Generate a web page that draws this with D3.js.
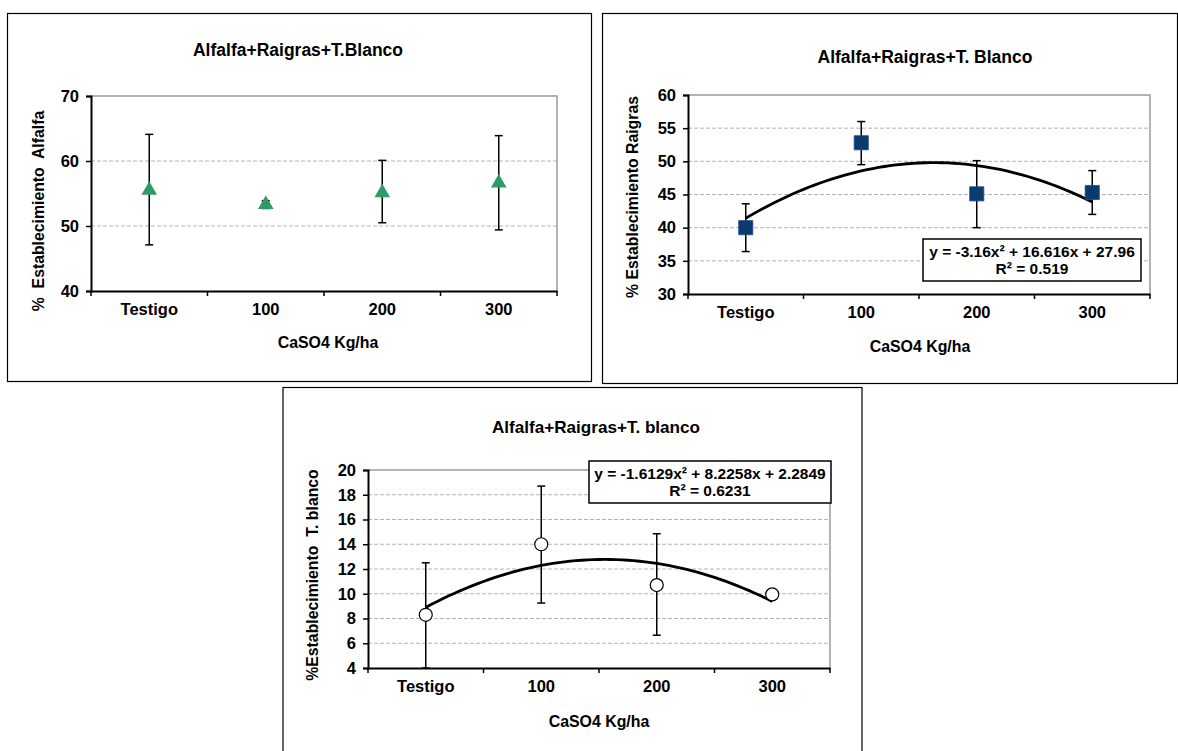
<!DOCTYPE html>
<html><head><meta charset="utf-8">
<script src="https://cdn.jsdelivr.net/npm/d3@7"></script>
<style>
html,body{margin:0;padding:0;background:#fff;}
svg{display:block;font-family:"Liberation Sans",Arial,sans-serif;font-weight:bold;}
</style></head>
<body>
<svg id="chart" width="1178" height="751"></svg>
<script>
// ---- data ----
const categories = ["Testigo", "100", "200", "300"];

const alfalfaMean = [55.5, 53.3, 55.1, 56.6];
const alfalfaLow  = [47.1, 52.7, 50.5, 49.4];
const alfalfaHigh = [64.1, 53.9, 60.1, 63.9];
const alfalfaTicks = [40, 50, 60, 70];

const raigrasMean = [40.0, 52.8, 45.1, 45.3];
const raigrasLow  = [36.4, 49.5, 40.0, 42.0];
const raigrasHigh = [43.6, 56.0, 50.1, 48.6];
const raigrasTicks = [30, 35, 40, 45, 50, 55, 60];
const raigrasFit = [-3.16, 16.616, 27.96];
const raigrasEq = ["y = -3.16x² + 16.616x + 27.96", "R² = 0.519"];

const blancoMean = [8.3, 14.0, 10.7, 9.95];
const blancoLow  = [4.0, 9.25, 6.65, 9.95];
const blancoHigh = [12.5, 18.7, 14.85, 9.95];
const blancoTicks = [4, 6, 8, 10, 12, 14, 16, 18, 20];
const blancoFit = [-1.6129, 8.2258, 2.2849];
const blancoEq = ["y = -1.6129x² + 8.2258x + 2.2849", "R² = 0.6231"];

const titles = ["Alfalfa+Raigras+T.Blanco", "Alfalfa+Raigras+T. Blanco", "Alfalfa+Raigras+T. blanco"];
const yLabels = ["%  Establecimiento  Alfalfa", "% Establecimiento Raigras", "%Establecimiento  T. blanco"];
const xLabel = "CaSO4 Kg/ha";

const svg = d3.select("#chart");

function panel(cfg) {
  const g = svg.append("g");
  // outer frame
  g.append("rect").attr("x", cfg.frame[0]).attr("y", cfg.frame[1])
    .attr("width", cfg.frame[2]).attr("height", cfg.frame[3])
    .attr("fill", "#fff").attr("stroke", "#000").attr("stroke-width", 1.2);

  const [L, R, T, B] = cfg.plot;
  const x = d3.scaleBand().domain(categories).range([L, R]).paddingInner(0).paddingOuter(0);
  const xf = d3.scaleLinear().domain([0.5, 4.5]).range([L, R]);
  const y = d3.scaleLinear().domain(cfg.domain).range([B, T]);

  // gridlines
  g.append("g").selectAll("line").data(cfg.ticks.slice(1, -1)).join("line")
    .attr("x1", L).attr("x2", R).attr("y1", d => y(d)).attr("y2", d => y(d))
    .attr("stroke", "#b4b4b4").attr("stroke-width", 1).attr("stroke-dasharray", "4,2");
  // plot area border top / right
  g.append("path").attr("d", `M${L},${T}H${R}V${B}`).attr("fill", "none")
    .attr("stroke", "#9a9a9a").attr("stroke-width", 1.5);

  // y axis
  const ya = d3.axisLeft(y).tickValues(cfg.ticks).tickSize(5).tickPadding(7).tickFormat(d3.format("d"));
  const yg = g.append("g").attr("transform", `translate(${L},0)`).call(ya);
  yg.select(".domain").attr("stroke", "#000").attr("stroke-width", 2);
  yg.selectAll(".tick line").attr("stroke", "#000").attr("stroke-width", 1.5);
  yg.selectAll("text").attr("font-size", 16.5).attr("font-weight", "bold").attr("font-family", "Liberation Sans, Arial").attr("fill", "#000");

  // x axis
  const xa = d3.axisBottom(x).tickSize(0).tickPadding(12.5);
  const xg = g.append("g").attr("transform", `translate(0,${B})`).call(xa);
  xg.select(".domain").attr("stroke", "#000").attr("stroke-width", 2);
  xg.selectAll("text").attr("font-size", 16.5).attr("font-weight", "bold").attr("font-family", "Liberation Sans, Arial").attr("fill", "#000");
  // boundary ticks
  g.append("g").selectAll("line").data(d3.range(categories.length + 1)).join("line")
    .attr("x1", i => L + i * x.bandwidth()).attr("x2", i => L + i * x.bandwidth())
    .attr("y1", B).attr("y2", B + 5).attr("stroke", "#000").attr("stroke-width", 1.5);

  // trend line
  if (cfg.fit) {
    const [a, b, c] = cfg.fit;
    const pts = d3.range(1, 4.001, 0.05).map(t => [xf(t), y(a * t * t + b * t + c)]);
    g.append("path").attr("d", d3.line()(pts)).attr("fill", "none")
      .attr("stroke", "#000").attr("stroke-width", 2.8);
  }

  // error bars
  const eb = g.append("g").attr("stroke", "#000").attr("stroke-width", 1.5);
  categories.forEach((c, i) => {
    if (cfg.high[i] - cfg.low[i] < 0.01) return;
    const cx = x(c) + x.bandwidth() / 2;
    eb.append("line").attr("x1", cx).attr("x2", cx).attr("y1", y(cfg.low[i])).attr("y2", y(cfg.high[i]));
    eb.append("line").attr("x1", cx - 4).attr("x2", cx + 4).attr("y1", y(cfg.low[i])).attr("y2", y(cfg.low[i]));
    eb.append("line").attr("x1", cx - 4).attr("x2", cx + 4).attr("y1", y(cfg.high[i])).attr("y2", y(cfg.high[i]));
  });

  // markers
  const mg = g.append("g");
  categories.forEach((c, i) => {
    const cx = x(c) + x.bandwidth() / 2, cy = y(cfg.mean[i]);
    if (cfg.marker === "triangle") {
      mg.append("path").attr("d", d3.symbol(d3.symbolTriangle, 105)())
        .attr("transform", `translate(${cx},${cy})`).attr("fill", "#2e9a66");
    } else if (cfg.marker === "square") {
      mg.append("path").attr("d", d3.symbol(d3.symbolSquare, 200)())
        .attr("transform", `translate(${cx},${cy})`).attr("fill", "#0b3a6e").attr("stroke", "#1f4f85").attr("stroke-width", 0.8);
    } else {
      mg.append("circle").attr("cx", cx).attr("cy", cy).attr("r", 6.5)
        .attr("fill", "#fff").attr("stroke", "#000").attr("stroke-width", 1.2);
    }
  });

  // equation box
  if (cfg.eqBox) {
    const [bx, by, bw, bh] = cfg.eqBox;
    g.append("rect").attr("x", bx).attr("y", by).attr("width", bw).attr("height", bh)
      .attr("fill", "#fff").attr("stroke", "#000").attr("stroke-width", 1.5);
    cfg.eq.forEach((t, k) => {
      g.append("text").attr("x", bx + bw / 2).attr("y", by + 17.5 + k * 17)
        .attr("text-anchor", "middle").attr("font-size", 15.5).text(t);
    });
  }

  // titles and labels
  g.append("text").attr("x", cfg.title[0]).attr("y", cfg.title[1]).attr("text-anchor", "middle")
    .attr("dominant-baseline", "central").attr("font-size", cfg.titleSize).text(cfg.titleText);
  g.append("text").attr("x", cfg.xlab[0]).attr("y", cfg.xlab[1]).attr("text-anchor", "middle")
    .attr("dominant-baseline", "central").attr("font-size", 15.9).text(xLabel);
  g.append("text").attr("transform", `translate(${cfg.ylab[0]},${cfg.ylab[1]}) rotate(-90)`)
    .attr("text-anchor", "middle").attr("dominant-baseline", "central").attr("font-size", 15.8)
    .attr("xml:space", "preserve").style("white-space", "pre").text(cfg.ylabText);
}

panel({
  frame: [7.5, 13.5, 584, 368], plot: [91, 557, 96, 291], domain: [40, 70], ticks: alfalfaTicks,
  mean: alfalfaMean, low: alfalfaLow, high: alfalfaHigh, marker: "triangle",
  title: [298, 50], titleSize: 17.5, titleText: titles[0], xlab: [328, 342], ylab: [38, 211], ylabText: yLabels[0]
});
panel({
  frame: [602.5, 13.5, 575, 370], plot: [688, 1150, 95, 294], domain: [30, 60], ticks: raigrasTicks,
  mean: raigrasMean, low: raigrasLow, high: raigrasHigh, marker: "square", fit: raigrasFit,
  eqBox: [923, 239, 218, 42], eq: raigrasEq,
  title: [925, 57], titleSize: 17.5, titleText: titles[1], xlab: [920, 346], ylab: [632, 197], ylabText: yLabels[1]
});
panel({
  frame: [283, 387.5, 579, 380], plot: [368, 830, 470, 668], domain: [4, 20], ticks: blancoTicks,
  mean: blancoMean, low: blancoLow, high: blancoHigh, marker: "circle", fit: blancoFit,
  eqBox: [589, 461, 242, 42], eq: blancoEq,
  title: [596, 427], titleSize: 17.1, titleText: titles[2], xlab: [599, 721], ylab: [312, 575], ylabText: yLabels[2]
});
</script>
</body></html>
